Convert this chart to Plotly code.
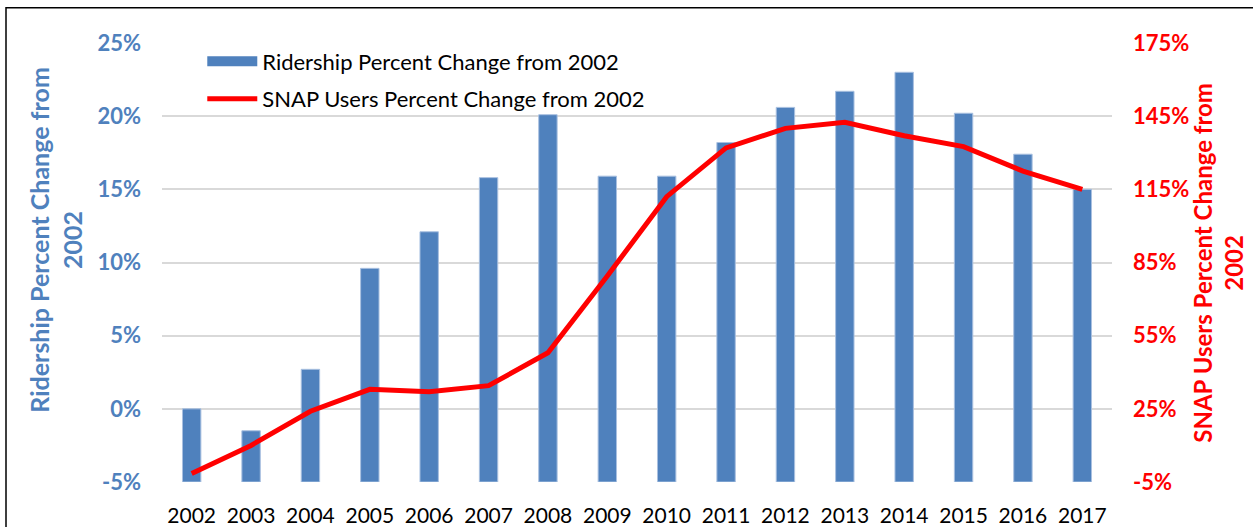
import plotly.graph_objects as go

years = [str(y) for y in range(2002, 2018)]
ridership_pct = [0.0, -1.5, 2.7, 9.6, 12.1, 15.8, 20.1, 15.9, 15.9, 18.2, 20.6, 21.7, 23.0, 20.2, 17.4, 15.0]
snap_pct = [-1.5, 10.0, 24.0, 33.0, 32.0, 34.5, 48.0, 79.5, 112.0, 132.0, 140.0, 142.5, 137.0, 132.5, 122.5, 115.0]

left_ticks = [-5, 0, 5, 10, 15, 20, 25]
right_ticks = [-5, 25, 55, 85, 115, 145, 175]

BLUE = "#4F81BD"
RED = "#FF0000"
FONT = "Lato"
axis_floor = -5
bar_name = "Ridership Percent Change from 2002"
line_name = "SNAP Users Percent Change from 2002"

fig = go.Figure()
fig.add_trace(go.Bar(
    x=years, y=[v - axis_floor for v in ridership_pct], base=axis_floor,
    name=bar_name, showlegend=False,
    marker=dict(color=BLUE, line=dict(color="#A9C0E0", width=1)),
    yaxis="y",
))
# legend entry for the bars (wide blue swatch like the original)
fig.add_trace(go.Scatter(
    x=[None], y=[None], mode="lines", name=bar_name,
    line=dict(color=BLUE, width=11), legendgroup="a", yaxis="y",
))
fig.add_trace(go.Scatter(
    x=years, y=snap_pct, mode="lines",
    name=line_name,
    line=dict(color=RED, width=5), legendgroup="b", yaxis="y2",
))

fig.update_layout(
    width=1253, height=527,
    margin=dict(l=162, r=141, t=43, b=45, autoexpand=False),
    paper_bgcolor="white", plot_bgcolor="white",
    font=dict(family=FONT, size=22, color="black"),
    bargap=0.69,
    showlegend=True,
    legend=dict(x=0.0424, y=1.006, xanchor="left", yanchor="top",
                bgcolor="rgba(0,0,0,0)", font=dict(size=22, color="black"),
                traceorder="grouped", tracegroupgap=6, itemwidth=50),
    xaxis=dict(type="category", showgrid=False, showline=False, zeroline=False,
               automargin=False,
               ticks="", tickfont=dict(size=21, color="black"), ticklabelstandoff=19),
    yaxis=dict(range=[-5, 25], tickvals=left_ticks, ticktext=[f"{t}%" for t in left_ticks],
               showgrid=True, gridcolor="#D9D9D9", gridwidth=1.5, zeroline=False,
               showline=False, ticks="", ticklabelstandoff=20, automargin=False,
               tickfont=dict(size=22, color=BLUE, family=FONT, weight="bold")),
    yaxis2=dict(range=[-5, 175], tickvals=right_ticks, ticktext=[f"{t}%" for t in right_ticks],
                overlaying="y", side="right", showgrid=False, zeroline=False,
                showline=False, ticks="", ticklabelstandoff=20, automargin=False,
                tickfont=dict(size=22, color=RED, family=FONT, weight="bold")),
    shapes=[dict(type="rect", xref="paper", yref="paper",
                 x0=(6 - 162) / 950, x1=1.3, y0=-0.3, y1=(482.3 - 8) / 439,
                 line=dict(color="black", width=1.5), fillcolor="rgba(0,0,0,0)", layer="below")],
    annotations=[
        dict(text="<b>Ridership Percent Change from<br>2002</b>", xref="paper", yref="paper",
             x=(56 - 162) / 950, y=(482.3 - 240) / 439, xanchor="center", yanchor="middle",
             textangle=-90, showarrow=False, font=dict(size=25, color=BLUE, family=FONT)),
        dict(text="<b>SNAP Users Percent Change from<br>2002</b>", xref="paper", yref="paper",
             x=(1218 - 162) / 950, y=(482.3 - 263) / 439, xanchor="center", yanchor="middle",
             textangle=-90, showarrow=False, font=dict(size=24, color=RED, family=FONT)),
    ],
)

fig.write_html("out.html", config={"displayModeBar": False},
               post_script="document.body.style.margin='0';document.body.style.overflow='hidden';")
